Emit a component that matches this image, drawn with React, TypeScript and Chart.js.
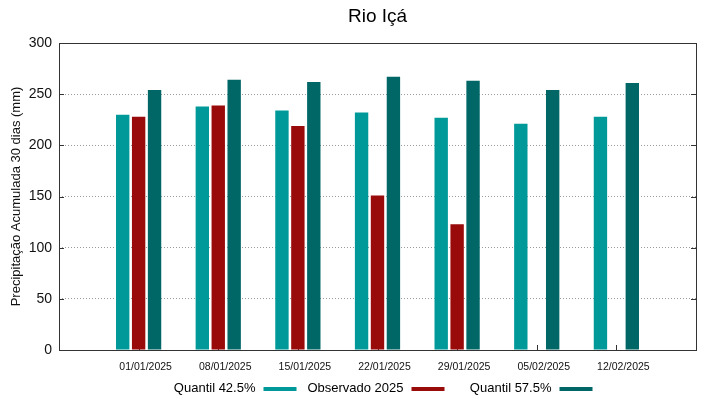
import React, { useEffect, useRef } from 'react';
import { Chart, registerables } from 'chart.js';

Chart.register(...registerables);

const chartTitle = 'Rio Içá';
const yAxisTitle = 'Precipitação Acumulada 30 dias (mm)';
const dates = ['01/01/2025', '08/01/2025', '15/01/2025', '22/01/2025', '29/01/2025', '05/02/2025', '12/02/2025'];
const quantil425 = [230, 238, 234, 232, 227, 221, 228];
const observado2025: (number | null)[] = [228, 239, 219, 151, 123, null, null];
const quantil575 = [254, 264, 262, 267, 263, 254, 261];
const seriesNames = ['Quantil 42.5%', 'Observado 2025', 'Quantil 57.5%'];
const seriesColors = ['#009999', '#990a0a', '#006666'];
const yTicks = [0, 50, 100, 150, 200, 250, 300];

const FONT = '"Liberation Sans", Arial, sans-serif';

const decor = {
  id: 'decor',
  beforeDatasetsDraw(chart: any) {
    const { ctx, chartArea: a, scales } = chart;
    ctx.save();
    ctx.strokeStyle = '#333';
    ctx.lineWidth = 1;
    ctx.beginPath();
    for (const v of yTicks) {
      const y = Math.round(scales.y.getPixelForValue(v)) + 0.5;
      ctx.moveTo(a.left, y);
      ctx.lineTo(a.left + 5, y);
      ctx.moveTo(a.right, y);
      ctx.lineTo(a.right - 5, y);
    }
    dates.forEach((_, i) => {
      const x = Math.round(scales.x.getPixelForValue(i)) + 0.5;
      ctx.moveTo(x, a.bottom);
      ctx.lineTo(x, a.bottom - 5);
    });
    ctx.stroke();
    ctx.restore();
  },
  afterDraw(chart: any) {
    const { ctx, chartArea: a } = chart;
    ctx.save();
    ctx.strokeStyle = '#333';
    ctx.lineWidth = 1;
    ctx.strokeRect(a.left + 0.5, a.top + 0.5, a.right - a.left, a.bottom - a.top);
    const cx = (a.left + a.right) / 2;
    ctx.fillStyle = '#000';
    ctx.font = `19px ${FONT}`;
    ctx.textAlign = 'center';
    ctx.textBaseline = 'alphabetic';
    ctx.fillText(chartTitle, cx, 22);
    ctx.font = `13px ${FONT}`;
    ctx.textAlign = 'right';
    ctx.textBaseline = 'middle';
    seriesNames.forEach((name, i) => {
      const end = cx - 122 + i * 148;
      ctx.fillStyle = '#000';
      ctx.fillText(name, end, 388);
      ctx.fillStyle = seriesColors[i];
      ctx.fillRect(end + 8, 387, 33, 4);
    });
    ctx.restore();
  },
};

export default function App() {
  const ref = useRef<HTMLCanvasElement>(null);
  useEffect(() => {
    if (!ref.current) return;
    const series = [quantil425, observado2025, quantil575];
    const chart = new Chart(ref.current, {
      type: 'bar',
      data: {
        datasets: series.map((vals, k) => ({
          label: seriesNames[k],
          data: vals.map((v, i) => ({ x: i, y: v })),
          backgroundColor: seriesColors[k],
          borderWidth: 0,
          categoryPercentage: 0.6,
          barPercentage: 0.84,
        })),
      },
      options: {
        responsive: false,
        animation: false,
        devicePixelRatio: 1,
        layout: { padding: { top: 43, right: 23, bottom: 27, left: 0 } },
        plugins: { legend: { display: false }, title: { display: false }, tooltip: { enabled: false } },
        scales: {
          x: {
            type: 'linear',
            min: -1,
            max: 7,
            offset: false,
            grid: { display: false, drawTicks: false, offset: false },
            border: { display: false },
            afterBuildTicks: (s: any) => {
              s.ticks = dates.map((_, i) => ({ value: i }));
            },
            afterFit: (s: any) => {
              s.height = 22;
            },
            ticks: {
              autoSkip: false,
              maxRotation: 0,
              padding: 11,
              labelOffset: 7,
              color: '#111',
              font: { family: FONT, size: 10.5 },
              callback: (v: any) => dates[v as number] ?? '',
            },
          },
          y: {
            min: 0,
            max: 300,
            afterFit: (s: any) => {
              s.width = 59;
            },
            afterBuildTicks: (s: any) => {
              s.ticks = yTicks.map((v) => ({ value: v }));
            },
            grid: {
              color: (c: any) => (c.tick && (c.tick.value === 0 || c.tick.value === 300) ? 'rgba(0,0,0,0)' : '#9a9a9a'),
              lineWidth: 1,
              drawTicks: false,
            },
            border: { display: false, dash: [1, 2] },
            ticks: {
              padding: 7,
              color: '#111',
              font: { family: FONT, size: 14 },
            },
            title: {
              display: true,
              text: yAxisTitle,
              color: '#111',
              font: { family: FONT, size: 13 },
              padding: { top: 9, bottom: 0 },
            },
          },
        },
      },
      plugins: [decor],
    });
    return () => chart.destroy();
  }, []);
  return (
    <div style={{ position: 'fixed', left: 0, top: 0, width: 719, height: 399, background: '#fff' }}>
      <canvas ref={ref} width={719} height={399} />
    </div>
  );
}
